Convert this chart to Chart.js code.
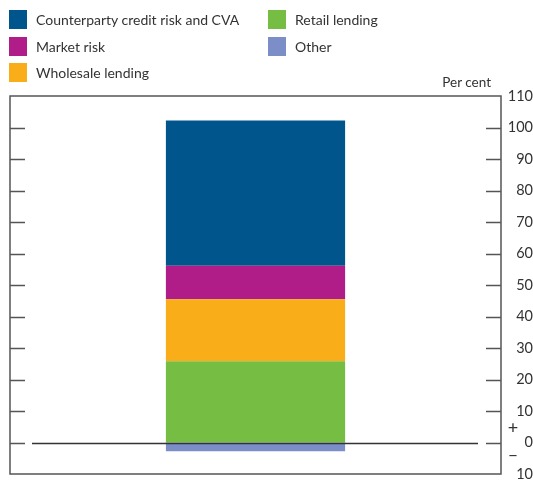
<!DOCTYPE html>
<html>
<head>
<meta charset="utf-8">
<script src="https://cdn.jsdelivr.net/npm/chart.js@4/dist/chart.umd.min.js"></script>
<style>
  body { margin: 0; background: #fff; }
  #wrap { position: relative; width: 533px; height: 480px; font-family: Lato, "Open Sans", sans-serif; color: #333; }
  #chart { position: absolute; left: 0; top: 0; }
  .key { position: absolute; font-size: 14px; line-height: 19px; white-space: nowrap; }
  .key span { position: absolute; left: 0; top: 0; width: 18px; height: 19px; }
  .key b { font-weight: normal; position: absolute; left: 27px; top: 0; }
  #unit { position: absolute; right: 42px; top: 74px; font-size: 13.5px; }
</style>
</head>
<body>
<div id="wrap">
  <canvas id="chart" width="533" height="480"></canvas>
  <div id="legend"></div>
  <div id="unit">Per cent</div>
</div>
<script>
// stacking order, bottom to top (Other sits below zero)
const seriesNames = ['Retail lending', 'Wholesale lending', 'Market risk', 'Counterparty credit risk and CVA', 'Other'];
const seriesValues = [25.8, 19.7, 10.6, 46.1, -2.8];
const seriesColors = ['#76BE43', '#F9AE19', '#B01C88', '#00568C', '#7B8EC8'];
const categories = [''];
const yMin = -10, yMax = 110, yStep = 10;

// legend layout: names in the order they are listed in the key
const legendOrder = ['Counterparty credit risk and CVA', 'Market risk', 'Wholesale lending', 'Retail lending', 'Other'];

const legendEl = document.getElementById('legend');
legendOrder.forEach((name, i) => {
    const col = i < 3 ? 0 : 1;
    const row = i < 3 ? i : i - 3;
    const idx = seriesNames.indexOf(name);
    const div = document.createElement('div');
    div.className = 'key';
    div.style.left = (col ? 268 : 9) + 'px';
    div.style.top = (10 + row * 26.5) + 'px';
    div.innerHTML = '<span style="background:' + seriesColors[idx] + '"></span><b>' + name + '</b>';
    legendEl.appendChild(div);
});

// frame, inner tick marks, zero line and +/- signs
const framePlugin = {
    id: 'frame',
    afterDatasetsDraw(chart) {
        const ctx = chart.ctx;
        const a = chart.chartArea;
        const y = chart.scales.y;
        ctx.save();
        ctx.strokeStyle = '#555';
        ctx.lineWidth = 1.5;
        ctx.strokeRect(a.left, a.top, a.right - a.left, a.bottom - a.top);
        for (let v = 0; v <= 100; v += yStep) {
            const py = Math.round(y.getPixelForValue(v)) + 0.5;
            ctx.beginPath();
            ctx.moveTo(a.left, py); ctx.lineTo(a.left + 15, py);
            ctx.moveTo(a.right - 15, py); ctx.lineTo(a.right, py);
            ctx.stroke();
        }
        const zy = Math.round(y.getPixelForValue(0)) + 0.5;
        ctx.strokeStyle = '#333';
        ctx.beginPath();
        ctx.moveTo(a.left + 22, zy); ctx.lineTo(a.right - 23, zy);
        ctx.stroke();
        ctx.fillStyle = '#333';
        ctx.font = '18px Lato, sans-serif';
        ctx.textAlign = 'center';
        ctx.textBaseline = 'middle';
        ctx.fillText('+', a.right + 12, zy - 15);
        ctx.fillText('\u2013', a.right + 12, zy + 12);
        ctx.restore();
    }
};

new Chart(document.getElementById('chart'), {
    type: 'bar',
    data: {
        labels: categories,
        datasets: seriesNames.map((name, i) => ({
            label: name,
            data: [seriesValues[i]],
            backgroundColor: seriesColors[i],
            borderWidth: 0,
            barPercentage: 1,
            categoryPercentage: 0.365
        }))
    },
    options: {
        responsive: false,
        animation: false,
        layout: { padding: { top: 96, left: 10, right: 0, bottom: 6 } },
        plugins: { legend: { display: false }, tooltip: { enabled: false } },
        scales: {
            x: { stacked: true, display: false },
            y: {
                stacked: true,
                position: 'right',
                min: yMin,
                max: yMax,
                grid: { display: false, drawTicks: false },
                border: { display: false },
                afterFit(scale) {
                    scale.width = 32;
                    scale.paddingTop = 0;
                    scale.paddingBottom = 0;
                },
                ticks: {
                    stepSize: yStep,
                    padding: 1,
                    crossAlign: 'far',
                    color: '#333',
                    font: { family: 'Lato, sans-serif', size: 14.5 },
                    callback: v => Math.abs(v)
                }
            }
        }
    },
    plugins: [framePlugin]
});
</script>
</body>
</html>
